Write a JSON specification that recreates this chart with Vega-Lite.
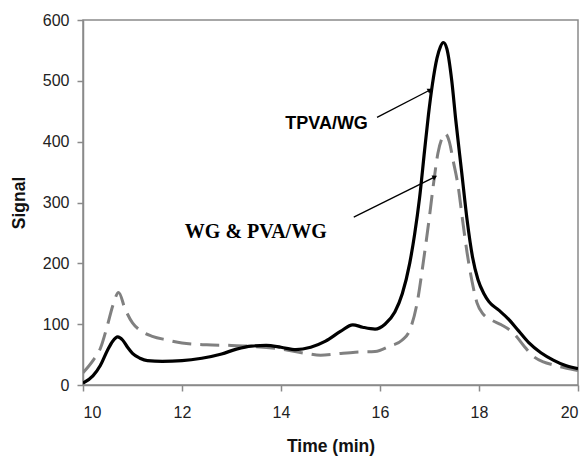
{
  "$schema": "https://vega.github.io/schema/vega-lite/v6.json",
  "width": 495,
  "height": 365,
  "autosize": {"type": "none"},
  "padding": {"left": 83, "top": 20, "right": 10, "bottom": 71},
  "background": "white",
  "config": {
    "view": {"stroke": "#8a8a8a", "strokeWidth": 1.5},
    "axis": {
      "domainColor": "#8a8a8a", "domainWidth": 1.5,
      "tickColor": "#8a8a8a", "tickWidth": 1.5, "tickSize": 6,
      "grid": false,
      "labelFont": "Liberation Sans", "labelFontSize": 16, "labelColor": "#222",
      "titleFont": "Liberation Sans", "titleFontSize": 17.5, "titleFontWeight": "bold", "titleColor": "#111"
    }
  },
  "datasets": {
    "curves": [
      {"t": 10.0, "s": 3, "series": "TPVA/WG"},
      {"t": 10.2, "s": 15, "series": "TPVA/WG"},
      {"t": 10.35, "s": 32, "series": "TPVA/WG"},
      {"t": 10.5, "s": 58, "series": "TPVA/WG"},
      {"t": 10.6, "s": 72, "series": "TPVA/WG"},
      {"t": 10.7, "s": 79, "series": "TPVA/WG"},
      {"t": 10.8, "s": 74, "series": "TPVA/WG"},
      {"t": 10.9, "s": 62, "series": "TPVA/WG"},
      {"t": 11.0, "s": 52, "series": "TPVA/WG"},
      {"t": 11.15, "s": 44, "series": "TPVA/WG"},
      {"t": 11.3, "s": 40, "series": "TPVA/WG"},
      {"t": 11.6, "s": 39, "series": "TPVA/WG"},
      {"t": 12.0, "s": 40, "series": "TPVA/WG"},
      {"t": 12.4, "s": 44, "series": "TPVA/WG"},
      {"t": 12.8, "s": 51, "series": "TPVA/WG"},
      {"t": 13.1, "s": 59, "series": "TPVA/WG"},
      {"t": 13.4, "s": 64, "series": "TPVA/WG"},
      {"t": 13.7, "s": 65, "series": "TPVA/WG"},
      {"t": 14.0, "s": 62, "series": "TPVA/WG"},
      {"t": 14.3, "s": 58, "series": "TPVA/WG"},
      {"t": 14.6, "s": 62, "series": "TPVA/WG"},
      {"t": 14.9, "s": 72, "series": "TPVA/WG"},
      {"t": 15.2, "s": 88, "series": "TPVA/WG"},
      {"t": 15.45, "s": 99, "series": "TPVA/WG"},
      {"t": 15.65, "s": 95, "series": "TPVA/WG"},
      {"t": 15.9, "s": 92, "series": "TPVA/WG"},
      {"t": 16.1, "s": 100, "series": "TPVA/WG"},
      {"t": 16.3, "s": 120, "series": "TPVA/WG"},
      {"t": 16.45, "s": 150, "series": "TPVA/WG"},
      {"t": 16.6, "s": 200, "series": "TPVA/WG"},
      {"t": 16.7, "s": 248, "series": "TPVA/WG"},
      {"t": 16.8, "s": 308, "series": "TPVA/WG"},
      {"t": 16.9, "s": 385, "series": "TPVA/WG"},
      {"t": 16.98, "s": 445, "series": "TPVA/WG"},
      {"t": 17.06, "s": 495, "series": "TPVA/WG"},
      {"t": 17.15, "s": 537, "series": "TPVA/WG"},
      {"t": 17.22, "s": 556, "series": "TPVA/WG"},
      {"t": 17.28, "s": 563, "series": "TPVA/WG"},
      {"t": 17.35, "s": 553, "series": "TPVA/WG"},
      {"t": 17.45, "s": 500, "series": "TPVA/WG"},
      {"t": 17.53, "s": 436, "series": "TPVA/WG"},
      {"t": 17.65, "s": 350, "series": "TPVA/WG"},
      {"t": 17.76, "s": 271, "series": "TPVA/WG"},
      {"t": 17.87, "s": 210, "series": "TPVA/WG"},
      {"t": 17.98, "s": 173, "series": "TPVA/WG"},
      {"t": 18.1, "s": 150, "series": "TPVA/WG"},
      {"t": 18.2, "s": 137, "series": "TPVA/WG"},
      {"t": 18.4, "s": 123, "series": "TPVA/WG"},
      {"t": 18.6, "s": 108, "series": "TPVA/WG"},
      {"t": 18.8, "s": 89, "series": "TPVA/WG"},
      {"t": 19.0, "s": 70, "series": "TPVA/WG"},
      {"t": 19.25, "s": 53, "series": "TPVA/WG"},
      {"t": 19.5, "s": 41, "series": "TPVA/WG"},
      {"t": 19.75, "s": 32, "series": "TPVA/WG"},
      {"t": 20.0, "s": 27, "series": "TPVA/WG"},
      {"t": 10.0, "s": 20, "series": "WG & PVA/WG"},
      {"t": 10.2, "s": 40, "series": "WG & PVA/WG"},
      {"t": 10.35, "s": 60, "series": "WG & PVA/WG"},
      {"t": 10.5, "s": 100, "series": "WG & PVA/WG"},
      {"t": 10.6, "s": 130, "series": "WG & PVA/WG"},
      {"t": 10.72, "s": 152, "series": "WG & PVA/WG"},
      {"t": 10.85, "s": 125, "series": "WG & PVA/WG"},
      {"t": 11.0, "s": 102, "series": "WG & PVA/WG"},
      {"t": 11.15, "s": 90, "series": "WG & PVA/WG"},
      {"t": 11.4, "s": 80, "series": "WG & PVA/WG"},
      {"t": 11.7, "s": 74, "series": "WG & PVA/WG"},
      {"t": 12.0, "s": 69, "series": "WG & PVA/WG"},
      {"t": 12.5, "s": 66, "series": "WG & PVA/WG"},
      {"t": 13.0, "s": 65, "series": "WG & PVA/WG"},
      {"t": 13.5, "s": 63, "series": "WG & PVA/WG"},
      {"t": 14.0, "s": 59, "series": "WG & PVA/WG"},
      {"t": 14.5, "s": 52, "series": "WG & PVA/WG"},
      {"t": 14.8, "s": 49, "series": "WG & PVA/WG"},
      {"t": 15.1, "s": 51, "series": "WG & PVA/WG"},
      {"t": 15.5, "s": 54, "series": "WG & PVA/WG"},
      {"t": 15.9, "s": 55, "series": "WG & PVA/WG"},
      {"t": 16.2, "s": 64, "series": "WG & PVA/WG"},
      {"t": 16.45, "s": 74, "series": "WG & PVA/WG"},
      {"t": 16.6, "s": 90, "series": "WG & PVA/WG"},
      {"t": 16.75, "s": 135, "series": "WG & PVA/WG"},
      {"t": 16.88, "s": 205, "series": "WG & PVA/WG"},
      {"t": 16.99, "s": 271, "series": "WG & PVA/WG"},
      {"t": 17.08, "s": 330, "series": "WG & PVA/WG"},
      {"t": 17.17, "s": 381, "series": "WG & PVA/WG"},
      {"t": 17.25, "s": 405, "series": "WG & PVA/WG"},
      {"t": 17.32, "s": 413, "series": "WG & PVA/WG"},
      {"t": 17.4, "s": 400, "series": "WG & PVA/WG"},
      {"t": 17.48, "s": 368, "series": "WG & PVA/WG"},
      {"t": 17.58, "s": 326, "series": "WG & PVA/WG"},
      {"t": 17.67, "s": 270, "series": "WG & PVA/WG"},
      {"t": 17.76, "s": 217, "series": "WG & PVA/WG"},
      {"t": 17.86, "s": 170, "series": "WG & PVA/WG"},
      {"t": 17.96, "s": 135, "series": "WG & PVA/WG"},
      {"t": 18.08, "s": 117, "series": "WG & PVA/WG"},
      {"t": 18.25, "s": 107, "series": "WG & PVA/WG"},
      {"t": 18.45, "s": 99, "series": "WG & PVA/WG"},
      {"t": 18.7, "s": 85, "series": "WG & PVA/WG"},
      {"t": 18.9, "s": 65, "series": "WG & PVA/WG"},
      {"t": 19.1, "s": 47, "series": "WG & PVA/WG"},
      {"t": 19.3, "s": 38, "series": "WG & PVA/WG"},
      {"t": 19.5, "s": 33, "series": "WG & PVA/WG"},
      {"t": 19.75, "s": 28, "series": "WG & PVA/WG"},
      {"t": 20.0, "s": 24, "series": "WG & PVA/WG"}
    ],
    "arrows": [
      {"t": 15.94, "s": 440, "t2": 17.01, "s2": 485, "angle": 62},
      {"t": 15.47, "s": 276, "t2": 17.11, "s2": 342, "angle": 63}
    ]
  },
  "layer": [
    {
      "data": {"name": "curves"},
      "transform": [{"filter": "datum.series === 'WG & PVA/WG'"}],
      "mark": {"type": "line", "interpolate": "monotone", "color": "#808080", "strokeWidth": 3, "strokeDash": [19, 9], "clip": true},
      "encoding": {
        "x": {"field": "t", "type": "quantitative", "scale": {"domain": [10, 20], "nice": false}, "axis": {"values": [10, 12, 14, 16, 18, 20], "title": "Time (min)", "labelPadding": 13, "titlePadding": 17}},
        "y": {"field": "s", "type": "quantitative", "scale": {"domain": [0, 600], "nice": false}, "axis": {"values": [0, 100, 200, 300, 400, 500, 600], "title": "Signal", "labelPadding": 8, "titlePadding": 14}}
      }
    },
    {
      "data": {"name": "curves"},
      "transform": [{"filter": "datum.series === 'TPVA/WG'"}],
      "mark": {"type": "line", "interpolate": "monotone", "color": "#000000", "strokeWidth": 3.2, "clip": true},
      "encoding": {
        "x": {"field": "t", "type": "quantitative"},
        "y": {"field": "s", "type": "quantitative"}
      }
    },
    {
      "data": {"name": "arrows"},
      "mark": {"type": "rule", "color": "#000", "strokeWidth": 1.3},
      "encoding": {
        "x": {"field": "t", "type": "quantitative"},
        "y": {"field": "s", "type": "quantitative"},
        "x2": {"field": "t2"},
        "y2": {"field": "s2"}
      }
    },
    {
      "data": {"name": "arrows"},
      "mark": {"type": "point", "shape": "triangle-up", "filled": true, "color": "#000", "size": 30, "opacity": 1},
      "encoding": {
        "x": {"field": "t2", "type": "quantitative"},
        "y": {"field": "s2", "type": "quantitative"},
        "angle": {"field": "angle", "type": "quantitative", "scale": null}
      }
    },
    {
      "data": {"values": [{"t": 14.92, "s": 429, "label": "TPVA/WG"}]},
      "mark": {"type": "text", "font": "Liberation Sans", "fontWeight": "bold", "fontSize": 18, "color": "#000", "align": "center", "baseline": "middle"},
      "encoding": {
        "x": {"field": "t", "type": "quantitative"},
        "y": {"field": "s", "type": "quantitative"},
        "text": {"field": "label"}
      }
    },
    {
      "data": {"values": [{"t": 13.49, "s": 251, "label": "WG & PVA/WG"}]},
      "mark": {"type": "text", "font": "Liberation Serif", "fontWeight": "bold", "fontSize": 20, "color": "#000", "align": "center", "baseline": "middle"},
      "encoding": {
        "x": {"field": "t", "type": "quantitative"},
        "y": {"field": "s", "type": "quantitative"},
        "text": {"field": "label"}
      }
    }
  ]
}
